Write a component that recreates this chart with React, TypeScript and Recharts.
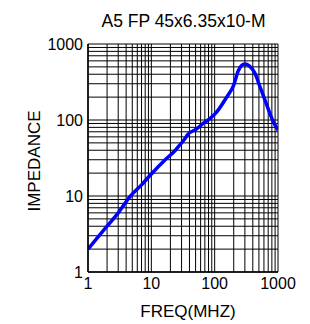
import React from "react";
import { LineChart, Line, XAxis, YAxis, CartesianGrid, Label } from "recharts";

const title = "A5 FP 45x6.35x10-M";
const xLabel = "FREQ(MHZ)";
const yLabel = "IMPEDANCE";

const freq = [1, 1.5, 2, 3, 4.6, 7, 10, 16.4, 24, 27, 33, 38, 50, 66, 85, 108, 155, 200, 236, 267, 300, 352, 433, 520, 623, 750, 843, 1000];
const imped = [2, 3, 4, 6, 9.8, 14, 19.5, 29.8, 40, 45, 55, 65, 75, 90, 105, 128, 200, 288, 445, 525, 545, 514, 411, 272, 183, 120, 95, 74];

const xTicks = [1, 10, 100, 1000];
const yTicks = [1, 10, 100, 1000];

const decadeGrid = (lo: number, hi: number) => {
  const out: number[] = [];
  for (let d = lo; d < hi; d *= 10) {
    for (let k = 1; k <= 9; k++) out.push(d * k);
  }
  out.push(hi);
  return out;
};
const gridX = decadeGrid(1, 1000);
const gridY = decadeGrid(1, 1000);

const data = freq.map((f, i) => ({ f, z: imped[i] }));

const FONT = "'Liberation Sans', Arial, sans-serif";

export default function App() {
  return (
    <div style={{ position: "absolute", left: 0, top: 0, width: 310, height: 324, background: "#fff" }}>
      <LineChart width={310} height={324} data={data} margin={{ top: 44, right: 32, bottom: 0, left: 0 }}>
        <CartesianGrid
          stroke="#000"
          strokeWidth={1}
          horizontalValues={gridY}
          verticalValues={gridX}
        />
        <XAxis
          dataKey="f"
          type="number"
          scale="log"
          domain={[1, 1000]}
          ticks={xTicks}
          allowDataOverflow
          height={52}
          tickLine={false}
          tickSize={6}
          tickMargin={0}
          axisLine={{ stroke: "#000", strokeWidth: 1.5 }}
          tick={{ fill: "#000", fontSize: 16, fontFamily: FONT }}
          interval={0}
        >
          <Label
            content={() => (
              <text x={188} y={317} textAnchor="middle" fontSize={17} fontFamily={FONT} fill="#000">
                {xLabel}
              </text>
            )}
          />
        </XAxis>
        <YAxis
          dataKey="z"
          type="number"
          scale="log"
          domain={[1, 1000]}
          ticks={yTicks}
          allowDataOverflow
          width={88}
          tickLine={false}
          tickSize={5}
          tickMargin={0}
          axisLine={{ stroke: "#000", strokeWidth: 1.5 }}
          tick={{ fill: "#000", fontSize: 16, fontFamily: FONT }}
          interval={0}
        >
          <Label
            content={() => (
              <text
                x={34}
                y={161}
                textAnchor="middle"
                dominantBaseline="central"
                transform="rotate(-90 34 161)"
                fontSize={17}
                fontFamily={FONT}
                fill="#000"
              >
                {yLabel}
              </text>
            )}
          />
        </YAxis>
        <Line
          type="monotone"
          dataKey="z"
          stroke="#0000ff"
          strokeWidth={3.5}
          dot={false}
          isAnimationActive={false}
        />
      </LineChart>
      <svg width={310} height={40} style={{ position: "absolute", left: 0, top: 0, pointerEvents: "none" }}>
        <text x={183.5} y={27} textAnchor="middle" fontSize={17.5} fontFamily={FONT} fill="#000">
          {title}
        </text>
      </svg>
    </div>
  );
}
